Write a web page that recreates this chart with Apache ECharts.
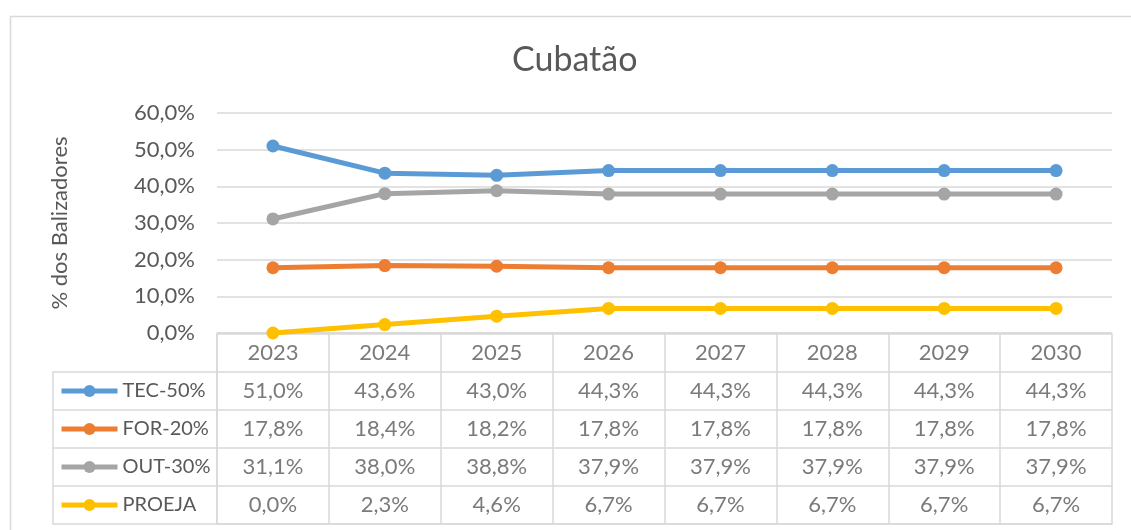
<!DOCTYPE html>
<html>
<head>
<meta charset="utf-8">
<script src="https://cdn.jsdelivr.net/npm/echarts@6/dist/echarts.min.js"></script>
<style>
  html, body { margin: 0; padding: 0; background: #fff; }
  #chart { width: 1131px; height: 530px; }
</style>
</head>
<body>
<div id="chart"></div>
<script>
// dados
var years = ['2023', '2024', '2025', '2026', '2027', '2028', '2029', '2030'];
var seriesNames = ['TEC-50%', 'FOR-20%', 'OUT-30%', 'PROEJA'];
var tec = [51.0, 43.6, 43.0, 44.3, 44.3, 44.3, 44.3, 44.3];
var forr = [17.8, 18.4, 18.2, 17.8, 17.8, 17.8, 17.8, 17.8];
var out = [31.1, 38.0, 38.8, 37.9, 37.9, 37.9, 37.9, 37.9];
var proeja = [0.0, 2.3, 4.6, 6.7, 6.7, 6.7, 6.7, 6.7];
var yTicks = [0, 10, 20, 30, 40, 50, 60];

var colors = ['#5b9bd5', '#ed7d31', '#a5a5a5', '#ffc000'];
var txt = '#595959';
var gridColor = '#d9d9d9';
var font = 'Lato';

var allData = [tec, forr, out, proeja];
var tableRows = ['ano'].concat(seriesNames);

function pct(v) {
    return v.toFixed(1).replace('.', ',') + '%';
}

// células da tabela
var cells = [];
years.forEach(function (y, i) {
    cells.push([i, 0, y]);
    allData.forEach(function (arr, k) {
        cells.push([i, k + 1, pct(arr[i])]);
    });
});

var myChart = echarts.init(document.getElementById('chart'));

var lineSeries = seriesNames.map(function (name, k) {
    return {
        name: name,
        type: 'line',
        data: allData[k],
        xAxisIndex: 0,
        yAxisIndex: 0,
        symbol: 'circle',
        symbolSize: 13,
        lineStyle: { width: 5, color: colors[k] },
        itemStyle: { color: colors[k] },
        z: 3
    };
});

var option = {
    animation: false,
    textStyle: { fontFamily: font },
    graphic: [{
        type: 'rect',
        left: 8, top: 14,
        shape: { width: 1140, height: 540 },
        style: { fill: 'none', stroke: gridColor, lineWidth: 1.5 }
    }],
    title: {
        text: 'Cubatão',
        left: 507,
        top: 38,
        textStyle: { fontFamily: font, fontSize: 34, fontWeight: 'normal', color: txt }
    },
    legend: {
        orient: 'vertical',
        left: 59,
        top: 380,
        height: 150,
        padding: 0,
        itemWidth: 56,
        itemHeight: 15,
        itemGap: 16,
        data: seriesNames,
        lineStyle: { width: 5 },
        textStyle: { fontFamily: font, fontSize: 20, lineHeight: 22, color: txt }
    },
    grid: [
        { left: 217, right: 19, top: 113, height: 220 },
        { left: 217, right: 19, top: 334, height: 190 },
        { left: 53, width: 164, top: 372, height: 152 }
    ],
    xAxis: [
        {
            gridIndex: 0,
            type: 'category',
            data: years,
            boundaryGap: true,
            axisLine: { lineStyle: { color: gridColor, width: 1.5 } },
            axisTick: { show: false },
            axisLabel: { show: false },
            splitLine: { show: false }
        },
        {
            gridIndex: 1,
            type: 'category',
            data: years,
            boundaryGap: true,
            axisLine: { show: true, lineStyle: { color: gridColor, width: 1.5 } },
            axisTick: { show: false },
            axisLabel: { show: false },
            splitLine: { show: true, lineStyle: { color: gridColor, width: 1.5 } }
        },
        {
            gridIndex: 2,
            type: 'value',
            min: 0, max: 1,
            show: false
        }
    ],
    yAxis: [
        {
            gridIndex: 0,
            type: 'value',
            min: yTicks[0],
            max: yTicks[yTicks.length - 1],
            interval: 10,
            name: '% dos Balizadores',
            nameLocation: 'middle',
            nameGap: 146,
            nameTextStyle: { fontFamily: font, fontSize: 22, color: txt },
            axisLine: { show: false },
            axisTick: { show: false },
            axisLabel: { margin: 22, fontFamily: font, fontSize: 22, color: txt, formatter: pct },
            splitLine: { lineStyle: { color: gridColor, width: 1.5 } }
        },
        {
            gridIndex: 1,
            type: 'category',
            data: tableRows,
            inverse: true,
            axisLine: { show: true, lineStyle: { color: gridColor, width: 1.5 } },
            axisTick: { show: false },
            axisLabel: { show: false },
            splitLine: { show: true, lineStyle: { color: gridColor, width: 1.5 } }
        },
        {
            gridIndex: 2,
            type: 'category',
            data: seriesNames,
            inverse: true,
            axisLine: { show: true, lineStyle: { color: gridColor, width: 1.5 } },
            axisTick: { show: false },
            axisLabel: { show: false },
            splitLine: { show: true, lineStyle: { color: gridColor, width: 1.5 } }
        }
    ],
    series: lineSeries.concat([{
        name: 'tabela',
        type: 'scatter',
        xAxisIndex: 1,
        yAxisIndex: 1,
        data: cells,
        symbolSize: 1,
        itemStyle: { color: 'rgba(0,0,0,0)' },
        silent: true,
        label: {
            show: true,
            position: 'inside',
            fontFamily: font,
            fontSize: 22,
            color: txt,
            formatter: function (p) { return p.value[2]; }
        }
    }])
};

myChart.setOption(option);
window.addEventListener('resize', function () {
    myChart.resize();
});
</script>
</body>
</html>
